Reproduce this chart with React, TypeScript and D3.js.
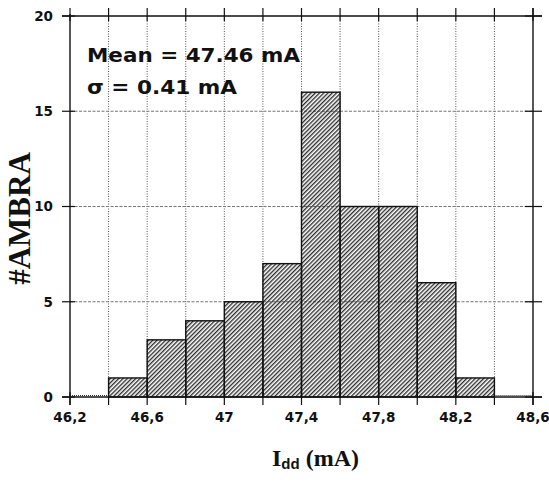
import React, { useRef, useEffect } from 'react';
import * as d3 from "d3";

const width = 549;
const height = 482;
const margin = ({top: 16, right: 16, bottom: 85, left: 70});

// histogram of I_dd, bins 0.2 mA wide
const binStarts = [46.2, 46.4, 46.6, 46.8, 47.0, 47.2, 47.4, 47.6, 47.8, 48.0, 48.2, 48.4];
const counts = [0, 1, 3, 4, 5, 7, 16, 10, 10, 6, 1, 0];
const binWidth = 0.2;

const xTicks = [46.2, 46.6, 47, 47.4, 47.8, 48.2, 48.6];
const xMinorTicks = [46.2, 46.4, 46.6, 46.8, 47, 47.2, 47.4, 47.6, 47.8, 48, 48.2, 48.4, 48.6];
const yTicks = [0, 5, 10, 15, 20];

const statLines = ["Mean = 47.46 mA", "\u03c3 = 0.41 mA"];

export default function App() {
    const d3Container = useRef<SVGSVGElement>(null);

    useEffect(() => {
        if (!d3Container.current) return;
        const svg = d3.select(d3Container.current);
        svg.selectAll("*").remove();

        const x = d3.scaleLinear()
            .domain([46.2, 48.6])
            .range([margin.left, width - margin.right]);
        const y = d3.scaleLinear()
            .domain([0, 20])
            .range([height - margin.bottom, margin.top]);

        const x0 = x.range()[0], x1 = x.range()[1];
        const y0 = y.range()[0], y1 = y.range()[1];
        const fmt = (d: number) => String(d).replace(".", ",");

        // hatch pattern
        svg.append("defs").append("pattern")
            .attr("id", "hatch")
            .attr("patternUnits", "userSpaceOnUse")
            .attr("width", 3)
            .attr("height", 3)
            .attr("patternTransform", "rotate(45)")
            .append("line")
            .attr("x1", 0.7).attr("y1", 0)
            .attr("x2", 0.7).attr("y2", 3)
            .attr("stroke", "#222")
            .attr("stroke-width", 1.3);

        // grid
        svg.append("g")
            .selectAll("line")
            .data(xMinorTicks.slice(1, -1))
            .join("line")
            .attr("x1", d => x(d)).attr("x2", d => x(d))
            .attr("y1", y1).attr("y2", y0)
            .attr("stroke", "#555")
            .attr("stroke-width", 1)
            .attr("stroke-dasharray", "1,1.5");

        svg.append("g")
            .selectAll("line")
            .data(yTicks.slice(1, -1))
            .join("line")
            .attr("x1", x0).attr("x2", x1)
            .attr("y1", d => y(d)).attr("y2", d => y(d))
            .attr("stroke", "#777")
            .attr("stroke-width", 1)
            .attr("stroke-dasharray", "3,1.5");

        // bars
        const bins = binStarts.map((b, i) => ({x0: b, x1: b + binWidth, n: counts[i]}));
        svg.append("g")
            .selectAll("rect")
            .data(bins.filter(d => d.n > 0))
            .join("rect")
            .attr("x", d => x(d.x0))
            .attr("y", d => y(d.n))
            .attr("width", d => x(d.x1) - x(d.x0))
            .attr("height", d => y(0) - y(d.n))
            .attr("fill", "url(#hatch)")
            .attr("stroke", "#111")
            .attr("stroke-width", 1.4);

        svg.append("g")
            .selectAll("line")
            .data(bins.filter(d => d.n === 0))
            .join("line")
            .attr("x1", d => x(d.x0)).attr("x2", d => x(d.x1))
            .attr("y1", y(0) - 1.5).attr("y2", y(0) - 1.5)
            .attr("stroke", "#333")
            .attr("stroke-dasharray", "1,1");

        // frame
        const frame = svg.append("g").attr("stroke", "#111").attr("stroke-width", 1.4);
        frame.append("line").attr("x1", x0 - 8).attr("x2", x1 + 9).attr("y1", y0).attr("y2", y0);
        frame.append("line").attr("x1", x0 - 8).attr("x2", x1 + 9).attr("y1", y1).attr("y2", y1);
        frame.append("line").attr("x1", x0).attr("x2", x0).attr("y1", y1 - 2).attr("y2", y0 + 8);
        frame.append("line").attr("x1", x1).attr("x2", x1).attr("y1", y1 - 8).attr("y2", y0 + 8);

        // ticks
        const ticks = svg.append("g").attr("stroke", "#111").attr("stroke-width", 1.2);
        ticks.selectAll(".xb").data(xMinorTicks).join("line")
            .attr("x1", d => x(d)).attr("x2", d => x(d))
            .attr("y1", y0 - 5).attr("y2", y0 + 8);
        ticks.selectAll(".xt").data(xMinorTicks).join("line")
            .attr("x1", d => x(d)).attr("x2", d => x(d))
            .attr("y1", y1 - 8).attr("y2", y1 + 5);
        ticks.selectAll(".yl").data(yTicks).join("line")
            .attr("x1", x0 - 8).attr("x2", x0 + 5)
            .attr("y1", d => y(d)).attr("y2", d => y(d));
        ticks.selectAll(".yr").data(yTicks).join("line")
            .attr("x1", x1 - 8).attr("x2", x1 + 9)
            .attr("y1", d => y(d)).attr("y2", d => y(d));

        // tick labels
        svg.append("g")
            .attr("font-family", "DejaVu Sans")
            .attr("font-weight", "bold")
            .attr("font-size", 13.5)
            .attr("fill", "#111")
            .selectAll("text")
            .data(xTicks)
            .join("text")
            .attr("x", d => x(d))
            .attr("y", y0 + 25)
            .attr("text-anchor", "middle")
            .text(fmt);

        svg.append("g")
            .attr("font-family", "DejaVu Sans")
            .attr("font-weight", "bold")
            .attr("font-size", 13.5)
            .attr("fill", "#111")
            .selectAll("text")
            .data(yTicks)
            .join("text")
            .attr("x", x0 - 17)
            .attr("y", d => y(d))
            .attr("dy", "0.36em")
            .attr("text-anchor", "end")
            .text(d => d);

        // axis titles
        svg.append("text")
            .attr("transform", `translate(30,${(y0 + y1) / 2 + 12}) rotate(-90)`)
            .attr("text-anchor", "middle")
            .attr("font-family", "Liberation Serif")
            .attr("font-weight", "bold")
            .attr("font-size", 31)
            .attr("fill", "#111")
            .text("#AMBRA");

        const xt = svg.append("text")
            .attr("x", (x0 + x1) / 2 + 14)
            .attr("y", 466)
            .attr("text-anchor", "middle")
            .attr("font-family", "Liberation Serif")
            .attr("font-weight", "bold")
            .attr("font-size", 24)
            .attr("fill", "#111");
        xt.append("tspan").text("I");
        xt.append("tspan")
            .attr("font-family", "Liberation Sans")
            .attr("font-size", 15)
            .attr("dy", 3)
            .text("dd");
        xt.append("tspan").attr("dy", -3).text(" (mA)");

        // stats
        svg.append("g")
            .attr("font-family", "DejaVu Sans")
            .attr("font-weight", "bold")
            .attr("font-size", 20)
            .attr("fill", "#111")
            .selectAll("text")
            .data(statLines)
            .join("text")
            .attr("x", 87)
            .attr("y", (d, i) => 62 + i * 32)
            .attr("textLength", (d, i) => i === 0 ? 213 : 150)
            .attr("lengthAdjust", "spacingAndGlyphs")
            .text(d => d);
    }, []);

    return (
        <svg ref={d3Container} width={width} height={height}
            style={{position: "absolute", left: 0, top: 0, background: "#fff"}} />
    );
}
